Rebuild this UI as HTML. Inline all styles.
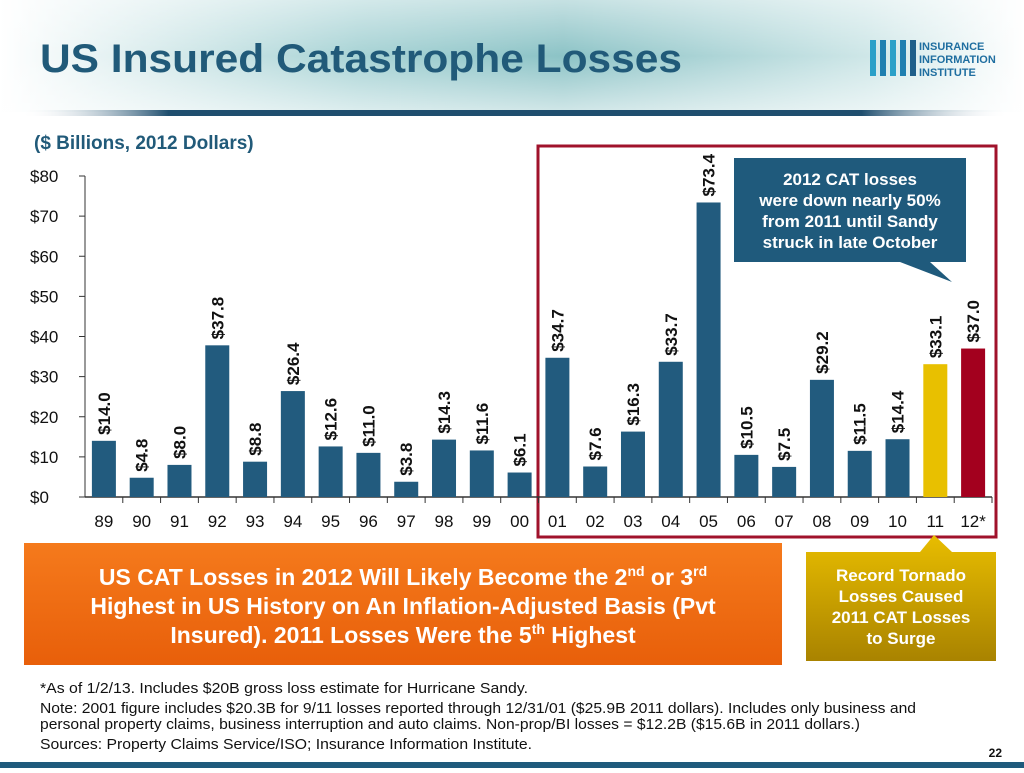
<!DOCTYPE html>
<html><head><meta charset="utf-8"><style>
body{margin:0;width:1024px;height:768px;overflow:hidden;background:#fff;font-family:"Liberation Sans",sans-serif}
</style></head><body>
<svg width="1024" height="768" viewBox="0 0 1024 768" xmlns="http://www.w3.org/2000/svg" font-family="Liberation Sans, sans-serif">
<defs>
<linearGradient id="hdr" x1="0" x2="1" y1="0" y2="0">
<stop offset="0" stop-color="#fff"/><stop offset="0.35" stop-color="#a8d3d5"/><stop offset="0.55" stop-color="#8cc3c6"/><stop offset="0.85" stop-color="#cfe7e8"/><stop offset="1" stop-color="#fff"/></linearGradient>
<linearGradient id="hdrv" x1="0" x2="0" y1="0" y2="1"><stop offset="0" stop-color="#fff" stop-opacity="0.5"/><stop offset="0.5" stop-color="#fff" stop-opacity="0"/><stop offset="1" stop-color="#fff" stop-opacity="0.6"/></linearGradient>
<linearGradient id="bar" x1="0" x2="1"><stop offset="0" stop-color="#fff" stop-opacity="0"/><stop offset="0.15" stop-color="#1f4e6e"/><stop offset="0.85" stop-color="#1f4e6e"/><stop offset="1" stop-color="#fff" stop-opacity="0"/></linearGradient>
<linearGradient id="org" x1="0" x2="0" y1="0" y2="1"><stop offset="0" stop-color="#f57a1c"/><stop offset="1" stop-color="#e85f0a"/></linearGradient>
<linearGradient id="gold" x1="0" x2="0" y1="0" y2="1"><stop offset="0" stop-color="#e8bd00"/><stop offset="1" stop-color="#a98300"/></linearGradient>
</defs>
<rect x="0" y="0" width="1024" height="112" fill="url(#hdr)"/>
<rect x="0" y="0" width="1024" height="112" fill="url(#hdrv)"/>
<rect x="20" y="110" width="990" height="6" fill="url(#bar)"/>
<text x="40" y="72" font-size="40" font-weight="bold" fill="#215a79" textLength="642" lengthAdjust="spacingAndGlyphs">US Insured Catastrophe Losses</text>
<g>
<rect x="870" y="40" width="6" height="36" fill="#2aa0c8"/><rect x="880" y="40" width="6" height="36" fill="#1f7fb0"/><rect x="890" y="40" width="6" height="36" fill="#2aa0c8"/><rect x="900" y="40" width="6" height="36" fill="#1f7fb0"/><rect x="910" y="40" width="6" height="36" fill="#1f5f8a"/>
<text x="919" y="50" font-size="11" font-weight="bold" fill="#1f6ea0">INSURANCE</text>
<text x="919" y="63" font-size="11" font-weight="bold" fill="#1f6ea0">INFORMATION</text>
<text x="919" y="76" font-size="11" font-weight="bold" fill="#1f6ea0">INSTITUTE</text>
</g>
<text x="34" y="149" font-size="19" font-weight="bold" fill="#215a79">($ Billions, 2012 Dollars)</text>
<rect x="538" y="146" width="458" height="391" fill="none" stroke="#a0122b" stroke-width="3"/>
<g id="chart"></g>
<g>
<polygon points="734,158 966,158 966,262 930,262 952,282 900,262 734,262" fill="#1f5a7c"/>
<text font-size="17" font-weight="bold" fill="#fff" text-anchor="middle"><tspan x="850" y="185">2012  CAT losses</tspan><tspan x="850" y="206">were down nearly 50%</tspan><tspan x="850" y="227">from 2011 until Sandy</tspan><tspan x="850" y="248">struck in late October</tspan></text>
</g>
<g>
<rect x="24" y="543" width="758" height="122" fill="url(#org)"/>
<text font-size="23" font-weight="bold" fill="#fff" text-anchor="middle"><tspan x="403" y="585">US CAT Losses in 2012 Will Likely Become the 2<tspan font-size="14" dy="-9">nd</tspan><tspan dy="9"> or 3</tspan><tspan font-size="14" dy="-9">rd</tspan></tspan><tspan x="403" y="614">Highest in US History on An Inflation-Adjusted Basis (Pvt</tspan><tspan x="403" y="643">Insured).  2011 Losses Were the 5<tspan font-size="14" dy="-9">th</tspan><tspan dy="9"> Highest</tspan></tspan></text>
</g>
<g>
<polygon points="806,552 920,552 934,535 952,552 996,552 996,661 806,661" fill="url(#gold)"/>
<text font-size="17" font-weight="bold" fill="#fff" text-anchor="middle"><tspan x="901" y="581">Record Tornado</tspan><tspan x="901" y="602">Losses Caused</tspan><tspan x="901" y="623">2011 CAT Losses</tspan><tspan x="901" y="644">to Surge</tspan></text>
</g>
<g font-size="15" fill="#111">
<text x="40" y="693" textLength="488" lengthAdjust="spacingAndGlyphs">*As of 1/2/13.  Includes $20B gross loss estimate for Hurricane Sandy.</text>
<text x="40" y="713" textLength="876" lengthAdjust="spacingAndGlyphs">Note: 2001 figure includes $20.3B for 9/11 losses reported through 12/31/01 ($25.9B 2011 dollars). Includes only business and</text>
<text x="40" y="729" textLength="820" lengthAdjust="spacingAndGlyphs">personal property claims, business interruption and auto claims. Non-prop/BI losses = $12.2B ($15.6B in 2011 dollars.)</text>
<text x="40" y="749" textLength="492" lengthAdjust="spacingAndGlyphs">Sources: Property Claims Service/ISO;  Insurance Information Institute.</text>
</g>
<text x="1002" y="757" font-size="12" font-weight="bold" fill="#111" text-anchor="end">22</text>
<rect x="0" y="762" width="1024" height="6" fill="#1f5a7c"/>
</svg>
<script>
const categories=["89","90","91","92","93","94","95","96","97","98","99","00","01","02","03","04","05","06","07","08","09","10","11","12*"];
const values=[14.0,4.8,8.0,37.8,8.8,26.4,12.6,11.0,3.8,14.3,11.6,6.1,34.7,7.6,16.3,33.7,73.4,10.5,7.5,29.2,11.5,14.4,33.1,37.0];
const yTicks=[0,10,20,30,40,50,60,70,80];
const NS="http://www.w3.org/2000/svg";
const g=document.getElementById('chart');
const x0=85,x1=992,y0=497,yTop=176,yMax=80;
const step=(x1-x0)/categories.length,bw=24;
const yS=v=>y0-(v/yMax)*(y0-yTop);
const xC=i=>x0+step*(i+0.5);
function mk(t,a){const e=document.createElementNS(NS,t);for(const k in a)e.setAttribute(k,a[k]);g.appendChild(e);return e;}
let ax=mk('line',{x1:x0,y1:y0,x2:x1,y2:y0,stroke:'#333','stroke-width':1.5});


let ay=mk('line',{x1:x0,y1:yTop,x2:x0,y2:y0,stroke:'#333','stroke-width':1});


yTicks.forEach(v=>{const y=yS(v);
 mk('line',{x1:x0-6,y1:y,x2:x0,y2:y,stroke:'#333'});
 const t=mk('text',{x:30,y:y+6,'font-size':17,fill:'#111'});t.textContent='$'+v;
 
 
});
categories.forEach((c,i)=>{
 mk('line',{x1:x0+step*(i+1),y1:y0,x2:x0+step*(i+1),y2:y0+6,stroke:'#333'});
 const t=mk('text',{x:xC(i),y:y0+30,'font-size':17,fill:'#111','text-anchor':'middle'});t.textContent=c;
 
 
 const v=values[i];const col=c==='11'?'#e8c000':(c==='12*'?'#a3001e':'#225b7e');
 const r=mk('rect',{x:xC(i)-bw/2,y:yS(v),width:bw,height:y0-yS(v),fill:col});
 
 
 const ly=yS(v)-6,lx=xC(i)+6;
 const l=mk('text',{x:lx,y:ly,'font-size':17,'font-weight':'bold',fill:'#111',transform:`rotate(-90 ${lx} ${ly})`});
 l.textContent='$'+v.toFixed(1);
 
 
});
</script>
</body></html>
